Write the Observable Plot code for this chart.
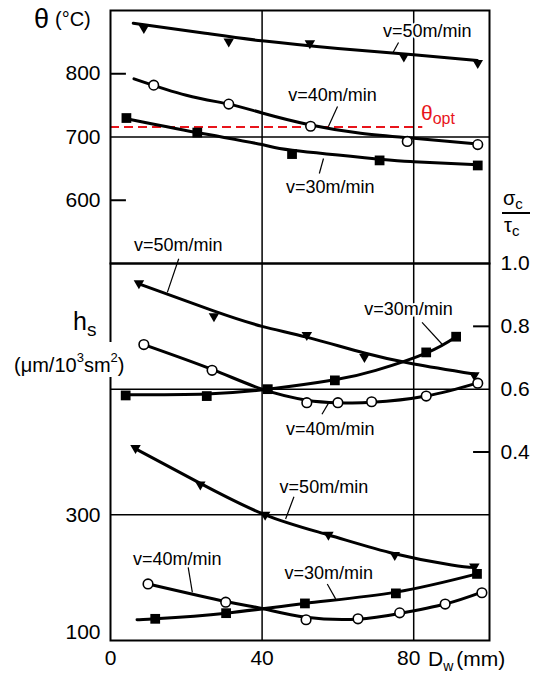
<!DOCTYPE html>
<html><head><meta charset="utf-8">
<script src="https://cdn.jsdelivr.net/npm/d3@7"></script>
<script src="https://cdn.jsdelivr.net/npm/@observablehq/plot@0.6"></script>
<style>
html,body{margin:0;padding:0;background:#fff;}
#chart{position:relative;width:536px;height:674px;overflow:hidden;}
#chart svg{position:absolute;left:0;top:0;}
</style></head>
<body><div id="chart"></div>
<script>
// ---------- data (Dw in mm, value) ----------
// θ (°C) panel
const thetaOpt = 716;
const theta50Pts = [[8.8,871],[31.2,850],[52.6,847],[77.4,826],[96.9,816]];
const theta50Fit = [[6,880],[25,864],[40,852],[60,840],[80,830],[96.8,821]];
const theta40Pts = [[11.4,782],[31.2,752],[52.8,717],[78.3,693],[96.9,688]];
const theta40Fit = [[6.2,792],[20,766],[31.2,752],[40,738],[52.8,719],[66,706],[80,698],[96.9,689]];
const theta30Pts = [[4.2,730],[22.9,707],[47.9,673],[71,663],[96.9,655]];
const theta30Fit = [[4.2,729],[22.9,707],[40,688],[48,679],[71,665],[80,661],[96.9,656]];
// σc/τc panel
const sig50Pts = [[7.5,0.935],[27.3,0.83],[51.8,0.77],[67,0.70],[96,0.642]];
const sig50Fit = [[7.5,0.935],[27,0.85],[40,0.80],[52,0.765],[67,0.715],[80,0.68],[96,0.648]];
const sig40Pts = [[8.8,0.742],[26.8,0.66],[51.8,0.557],[60,0.557],[68.9,0.56],[83.3,0.578],[96.9,0.619]];
const sig40Fit = [[8.8,0.742],[26.8,0.663],[40,0.60],[51.8,0.565],[60,0.557],[69,0.558],[83.3,0.578],[96.9,0.62]];
const sig30Pts = [[4,0.58],[25.4,0.578],[41.5,0.60],[59.2,0.628],[83.3,0.717],[91.2,0.767]];
const sig30Fit = [[4,0.582],[25.4,0.585],[41.5,0.60],[59.2,0.63],[70,0.66],[83.3,0.715],[91.2,0.767]];
// hs panel
const hs50Pts = [[6.6,405],[23.7,347],[40.8,299],[57.5,267],[75,235],[96,216.5]];
const hs50Fit = [[6.6,405],[23.7,350],[40.8,300],[57.5,268],[75,238],[90,220],[96,216]];
const hs40Pts = [[9.9,190],[30.4,161],[51.6,133],[65.3,134.5],[76.3,144],[88.3,158],[98,176]];
const hs40Fit = [[9.9,190],[30.4,162],[40,151],[51.6,137],[65.3,134],[76.3,143],[88.3,158],[98,177]];
const hs30Pts = [[11.8,134.5],[30.5,143.5],[51.3,159],[75.3,175],[96.7,206]];
const hs30Fit = [[7,133],[11.8,134.5],[30.5,143.5],[51.3,159],[75.3,177],[96.7,206]];
// tick values
const thetaTicks = [600,700,800];
const sigTicks = [0.4,0.6,0.8,1.0];
const xTicks = [0,40,80];
// annotation labels [D, value, text] and leaders [D1, v1, D2, v2]
const thetaLabels = [[83.6,868,"v=50m/min"],[58.6,765.6,"v=40m/min"],[58.0,620,"v=30m/min"]];
const thetaLeaders = [[76.0,849.4,74.4,832],[59.9,748.2,57.5,716.6],[56.2,666,55.1,642.3]];
const sigLabels = [[17.9,1.057,"v=50m/min"],[78.6,0.856,"v=30m/min"],[58.0,0.473,"v=40m/min"]];
const sigLeaders = [[18,1.015,15,0.908],[82.2,0.8125,87.5,0.743],[57.6,0.557,55.8,0.52]];
const hsLabels = [[17.6,229.8,"v=40m/min"],[56.3,343.5,"v=50m/min"],[57.6,207.5,"v=30m/min"]];
const hsLeaders = [[20.5,216.4,21.6,176.7],[48.4,328.8,46.2,293.3],[57.2,190,59.4,166.2]];

// ---------- helpers ----------
const FONT = '"Liberation Sans", Arial, Helvetica, sans-serif';
const W = 536, H = 674, ML = 110, MR = 47;
const rows = p => p.map(([D, v]) => ({D, v}));
const labs = p => p.map(([D, v, t]) => ({D, v, t}));
const links = p => p.map(([a, b, c, d]) => ({x1: a, y1: b, x2: c, y2: d}));
const triDown = {draw(ctx, size) {
  const r = Math.sqrt(size / Math.PI);
  ctx.moveTo(-1.05 * r, -0.75 * r); ctx.lineTo(1.05 * r, -0.75 * r); ctx.lineTo(0, 1.05 * r); ctx.closePath();
}};
const style = {background: "none", fontFamily: FONT, fontSize: "21px", color: "black", overflow: "visible"};
function series(fit, pts, kind) {
  const marks = [Plot.line(rows(fit), {x: "D", y: "v", curve: "natural", stroke: "black", strokeWidth: 3})];
  if (kind === "tri") marks.push(Plot.dot(rows(pts), {x: "D", y: "v", symbol: triDown, r: 5, fill: "black"}));
  if (kind === "circ") marks.push(Plot.dot(rows(pts), {x: "D", y: "v", r: 4.8, fill: "white", stroke: "black", strokeWidth: 1.6}));
  if (kind === "sq") marks.push(Plot.dot(rows(pts), {x: "D", y: "v", symbol: "square", r: 5.5, fill: "black"}));
  return marks;
}
function annot(lab, lead) {
  return [
    Plot.link(links(lead), {x1: "x1", y1: "y1", x2: "x2", y2: "y2", stroke: "black", strokeWidth: 1.2}),
    Plot.text(labs(lab), {x: "D", y: "v", text: "t", fontSize: 18, fill: "black", stroke: "white", strokeWidth: 4})
  ];
}

// ---------- hs panel (bottom, left axis) ----------
const plotHs = Plot.plot({
  width: W, height: H, marginTop: 263, marginBottom: H - 640, marginLeft: ML, marginRight: MR,
  x: {domain: [0, 100], label: null},
  y: {domain: [100, 700], label: null},
  style,
  marks: [
    Plot.ruleX([40, 80], {stroke: "black", strokeWidth: 1.5}),
    Plot.ruleY([300, 500], {stroke: "black", strokeWidth: 1.5}),
    ...series(hs50Fit, hs50Pts, "tri"),
    ...series(hs30Fit, hs30Pts, "sq"),
    ...series(hs40Fit, hs40Pts, "circ"),
    ...annot(hsLabels, hsLeaders),
    Plot.frame({stroke: "black", strokeWidth: 2}),
    Plot.axisY({ticks: [300], tickSize: 0, tickPadding: 10, label: null}),
    Plot.axisY({ticks: [100], tickSize: 0, tickPadding: 10, dy: -8, label: null}),
    Plot.axisX({ticks: xTicks.slice(0, 2), tickSize: 0, tickPadding: 10, label: null}),
    Plot.axisX({ticks: xTicks.slice(2), tickSize: 0, tickPadding: 10, dx: -5, label: null})
  ]
});

// ---------- σc/τc panel (middle, right axis) ----------
const plotSig = Plot.plot({
  width: W, height: H, marginTop: 263, marginBottom: H - 640, marginLeft: ML, marginRight: MR,
  x: {domain: [0, 100], axis: null},
  y: {domain: [-0.2, 1.0], label: null},
  style,
  marks: [
    Plot.ruleY([0.8, 0.4], {x1: 95.8, x2: 100, stroke: "black", strokeWidth: 2}),
    ...series(sig50Fit, sig50Pts, "tri"),
    ...series(sig30Fit, sig30Pts, "sq"),
    ...series(sig40Fit, sig40Pts, "circ"),
    ...annot(sigLabels, sigLeaders),
    Plot.axisY({anchor: "right", ticks: sigTicks, tickSize: 0, tickPadding: 11, tickFormat: d3.format(".1f"), label: null})
  ]
});

// ---------- θ panel (top) ----------
const plotTheta = Plot.plot({
  width: W, height: H, marginTop: 10, marginBottom: H - 263, marginLeft: ML, marginRight: MR,
  x: {domain: [0, 100], axis: null},
  y: {domain: [500, 900], label: null},
  style,
  marks: [
    Plot.ruleX([40, 80], {stroke: "black", strokeWidth: 1.5}),
    Plot.ruleY([700], {stroke: "black", strokeWidth: 1.5}),
    Plot.ruleY([800, 600], {x1: 0, x2: 4.2, stroke: "black", strokeWidth: 2}),
    Plot.ruleY([thetaOpt], {x1: 0, x2: 82.4, stroke: "#e8141b", strokeWidth: 2, strokeDasharray: "9,5"}),
    ...series(theta50Fit, theta50Pts, "tri"),
    ...series(theta40Fit, theta40Pts, "circ"),
    ...series(theta30Fit, theta30Pts, "sq"),
    ...annot(thetaLabels, thetaLeaders),
    Plot.frame({stroke: "black", strokeWidth: 2}),
    Plot.axisY({ticks: thetaTicks, tickSize: 0, tickPadding: 10, label: null})
  ]
});

const chart = document.getElementById("chart");
chart.append(plotHs, plotSig, plotTheta);

// ---------- axis titles (text with sub/superscripts) ----------
const svg = d3.select(plotTheta);
const g = svg.append("g").attr("font-family", FONT).attr("fill", "black").attr("text-anchor", "start");
function rich(x, y, parts, extra = {}) {
  const t = g.append("text").attr("x", x).attr("y", y).attr("text-anchor", "start");
  for (const k in extra) t.attr(k, extra[k]);
  for (const p of parts) {
    const s = t.append("tspan").text(p.t).attr("font-size", p.fs);
    if (p.dy) s.attr("dy", p.dy);
    if (p.dx) s.attr("dx", p.dx);
  }
  return t;
}
rich(34, 28, [{t: "θ", fs: 27}]);
rich(55, 26, [{t: "(°C)", fs: 20}]);
rich(73, 330, [{t: "h", fs: 25}, {t: "s", fs: 19, dy: 6}]);
// gap in the left axis line where the unit label crosses it
g.append("rect").attr("x", 106).attr("y", 342).attr("width", 8).attr("height", 35).attr("fill", "white");
rich(14, 372, [{t: "(μm/10", fs: 20}, {t: "3", fs: 13, dy: -10}, {t: "sm", fs: 20, dy: 10}, {t: "2", fs: 13, dy: -10}, {t: ")", fs: 20, dy: 10}]);
rich(503, 205, [{t: "σ", fs: 20}, {t: "c", fs: 15, dy: 4}]);
g.append("line").attr("x1", 502).attr("x2", 530).attr("y1", 213).attr("y2", 213).attr("stroke", "black").attr("stroke-width", 2);
rich(504, 232, [{t: "τ", fs: 20}, {t: "c", fs: 15, dy: 4}]);
rich(428, 666, [{t: "D", fs: 21}, {t: "w", fs: 14, dy: 5}, {t: "(mm)", fs: 21, dy: -5, dx: 3}]);
rich(421, 120, [{t: "θ", fs: 21}, {t: "opt", fs: 16, dy: 4}], {fill: "#e8141b"});
</script>
</body></html>
